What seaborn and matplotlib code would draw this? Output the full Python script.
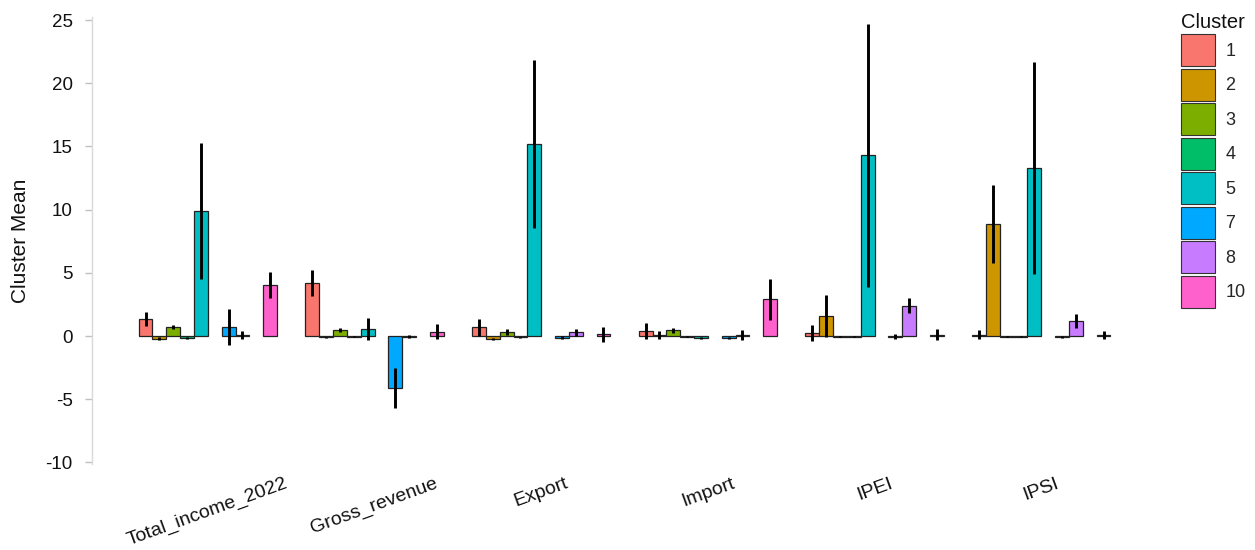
import matplotlib
matplotlib.use("Agg")
import matplotlib.pyplot as plt
from matplotlib.patches import Patch
import seaborn as sns
import pandas as pd
import numpy as np

categories = ['Total_income_2022', 'Gross_revenue', 'Export', 'Import', 'IPEI', 'IPSI']
clusters = ['1', '2', '3', '4', '5', '7', '8', '10']
all_levels = ['1', '2', '3', '4', '5', '6', '7', '8', '9', '10']

mean_c1 = [1.34, 4.17, 0.69, 0.38, 0.25, 0.1]
mean_c2 = [-0.2, -0.1, -0.2, 0.07, 1.6, 8.86]
mean_c3 = [0.69, 0.47, 0.32, 0.45, -0.05, -0.05]
mean_c4 = [-0.15, -0.05, -0.1, -0.05, -0.05, -0.05]
mean_c5 = [9.91, 0.55, 15.19, -0.15, 14.3, 13.29]
mean_c7 = [0.74, -4.09, -0.12, -0.12, -0.05, -0.08]
mean_c8 = [0.1, -0.05, 0.29, 0.08, 2.4, 1.19]
mean_c10 = [4.03, 0.35, 0.15, 2.9, 0.12, 0.1]

err_c1 = [0.55, 1.03, 0.65, 0.62, 0.62, 0.37]
err_c2 = [0.1, 0.05, 0.08, 0.33, 1.65, 3.07]
err_c3 = [0.17, 0.18, 0.2, 0.2, 0.03, 0.03]
err_c4 = [0.08, 0.04, 0.05, 0.04, 0.03, 0.03]
err_c5 = [5.4, 0.85, 6.65, 0.1, 10.4, 8.4]
err_c7 = [1.43, 1.58, 0.1, 0.08, 0.2, 0.1]
err_c8 = [0.3, 0.1, 0.3, 0.37, 0.6, 0.58]
err_c10 = [1.04, 0.6, 0.6, 1.6, 0.42, 0.32]

colors = ['#F8766D', '#CD9600', '#7CAE00', '#00BE67', '#00BFC4', '#00A9FF', '#C77CFF', '#FF61CC']

means = [mean_c1, mean_c2, mean_c3, mean_c4, mean_c5, mean_c7, mean_c8, mean_c10]
errs = [err_c1, err_c2, err_c3, err_c4, err_c5, err_c7, err_c8, err_c10]

rows = []
for cl, m, e in zip(clusters, means, errs):
    for cat, mv, ev in zip(categories, m, e):
        rows.append({'Variable': cat, 'Cluster': cl, 'Mean': mv, 'Err': ev})
df = pd.DataFrame(rows)

palette = dict(zip(clusters, colors))
palette['6'] = '#999999'
palette['9'] = '#999999'

sns.set_theme(style='white')
plt.rcParams['font.family'] = ['Liberation Sans', 'DejaVu Sans']
plt.rcParams['axes.unicode_minus'] = False

fig = plt.figure(figsize=(12.55, 5.5), dpi=100)
ax = fig.add_axes([0.0733, 0.1569, 0.922 - 0.0733, 0.9682 - 0.1569])

group_w = 0.83
sns.barplot(data=df, x='Variable', y='Mean', hue='Cluster', order=categories,
            hue_order=all_levels, palette=palette, saturation=1, errorbar=None,
            width=group_w, gap=0, edgecolor='#222222', linewidth=0.9,
            legend=False, ax=ax)

slot = group_w / len(all_levels)
lookup = {(r.Variable, r.Cluster): r.Err for r in df.itertuples()}
for p in ax.patches:
    cx = p.get_x() + p.get_width() / 2
    h = p.get_y() + p.get_height()
    idx = int(round(cx))
    s = int(round((cx - idx + group_w / 2) / slot - 0.5))
    key = (categories[idx], all_levels[s])
    if key not in lookup:
        continue
    e = lookup[key]
    ax.vlines(cx, h - e, h + e, color='black', linewidth=2.1, clip_on=False, zorder=5)

ax.set_xlim(-0.695, 5.695)
ax.set_ylim(-10.1, 25.2)
ax.set_yticks([-10, -5, 0, 5, 10, 15, 20, 25])
ax.set_yticklabels(['-10', '-5', '0', '5', '10', '15', '20', '25'], fontsize=13.5, color='#111111')
ax.set_ylabel('Cluster Mean', fontsize=15, color='#111111')
ax.yaxis.set_label_coords(-0.0583, 0.5)
ax.set_xlabel('')
for lab in ax.get_xticklabels():
    lab.set_rotation(20)
    lab.set_ha('center')
    lab.set_fontsize(14)
    lab.set_color('#111111')

for sp in ['top', 'right', 'bottom']:
    ax.spines[sp].set_visible(False)
ax.spines['left'].set_color('#d9d9d9')
ax.spines['left'].set_linewidth(1.0)
ax.tick_params(axis='y', which='major', left=True, length=5, width=1, color='#bfbfbf', pad=9)
ax.tick_params(axis='x', which='major', bottom=False, length=0, pad=8)
ax.grid(False)

handles = [Patch(facecolor=c, edgecolor='#333333', linewidth=0.8) for c in colors]
leg = fig.legend(handles, clusters, title='Cluster', loc='upper left',
                 bbox_to_anchor=(1168 / 1255, 1.0), frameon=False, fontsize=13,
                 title_fontsize=14.5, handlelength=1.88, handleheight=2.35,
                 labelspacing=0.14, handletextpad=0.6, borderaxespad=0.3,
                 alignment='left')
leg.get_title().set_color('#111111')

fig.savefig('out.png', dpi=100, facecolor='white')
